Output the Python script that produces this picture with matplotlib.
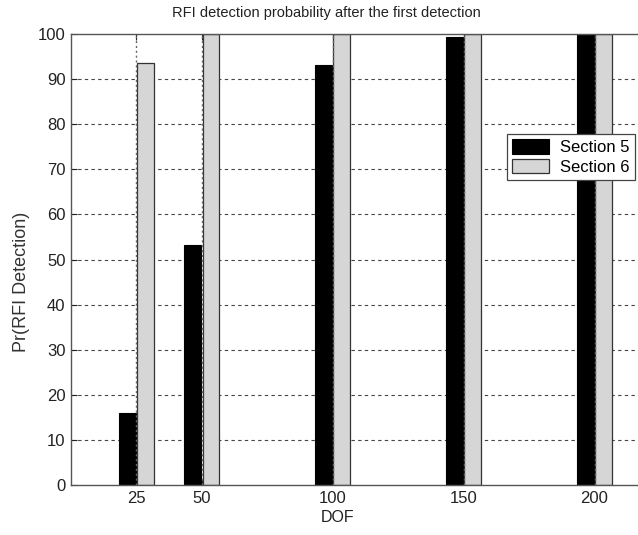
import matplotlib.pyplot as plt
import numpy as np

plt.rcParams['font.family'] = ['Liberation Sans', 'DejaVu Sans']

dof = [25, 50, 100, 150, 200]
section5 = [16.0, 53.2, 93.1, 99.3, 100.0]
section6 = [93.5, 100.0, 100.0, 100.0, 100.0]
yticks = list(range(0, 101, 10))

fig = plt.figure(figsize=(6.38, 5.35), dpi=100)
# axes run past the right edge of the picture, as in the reference
ax = fig.add_axes([71 / 638, 50 / 535, 589 / 638, 451 / 535])

x = np.array(dof)
w = 6.4
off = 3.45
ax.bar(x - off, section5, w, color='black', edgecolor='black', linewidth=0.8,
       label='Section 5', zorder=2)
ax.bar(x + off, section6, w, color='#d6d6d6', edgecolor='#333333', linewidth=0.9,
       label='Section 6', zorder=2)

for yv in yticks[1:-1]:
    ax.axhline(yv, color='#444444', linestyle=(0, (3, 3)), linewidth=0.8, zorder=1)
for xv in dof:
    ax.axvline(xv, color='#666666', linestyle=(0, (1.5, 2)), linewidth=1.0, zorder=3)

ax.set_xlim(0, 225)
ax.set_ylim(0, 100)
ax.set_xticks(dof)
ax.set_yticks(yticks)
ax.tick_params(direction='in', length=4, labelsize=12, colors='#222222',
               top=True, right=True, pad=4)
for s in ax.spines.values():
    s.set_color('#555555')
    s.set_linewidth(1.0)

fig.text(326 / 638, 1 - 13 / 535, 'RFI detection probability after the first detection',
         ha='center', va='center', fontsize=10.5, color='#222222')
fig.text(338 / 638, 1 - 517 / 535, 'DOF', ha='center', va='center',
         fontsize=11.5, color='#222222')
fig.text(22 / 638, 1 - 282 / 535, 'Pr(RFI Detection)', ha='center', va='center',
         rotation=90, fontsize=13, color='#333333')

leg = ax.legend(loc='upper right', bbox_to_anchor=(635 / 638, 1 - 134 / 535),
                bbox_transform=fig.transFigure, fancybox=False, framealpha=1,
                edgecolor='#444444', fontsize=12, handlelength=2.2,
                handleheight=1.0, borderpad=0.3, labelspacing=0.2,
                handletextpad=0.7, borderaxespad=0)
leg.get_frame().set_linewidth(0.9)

fig.savefig('out.png', dpi=100)
